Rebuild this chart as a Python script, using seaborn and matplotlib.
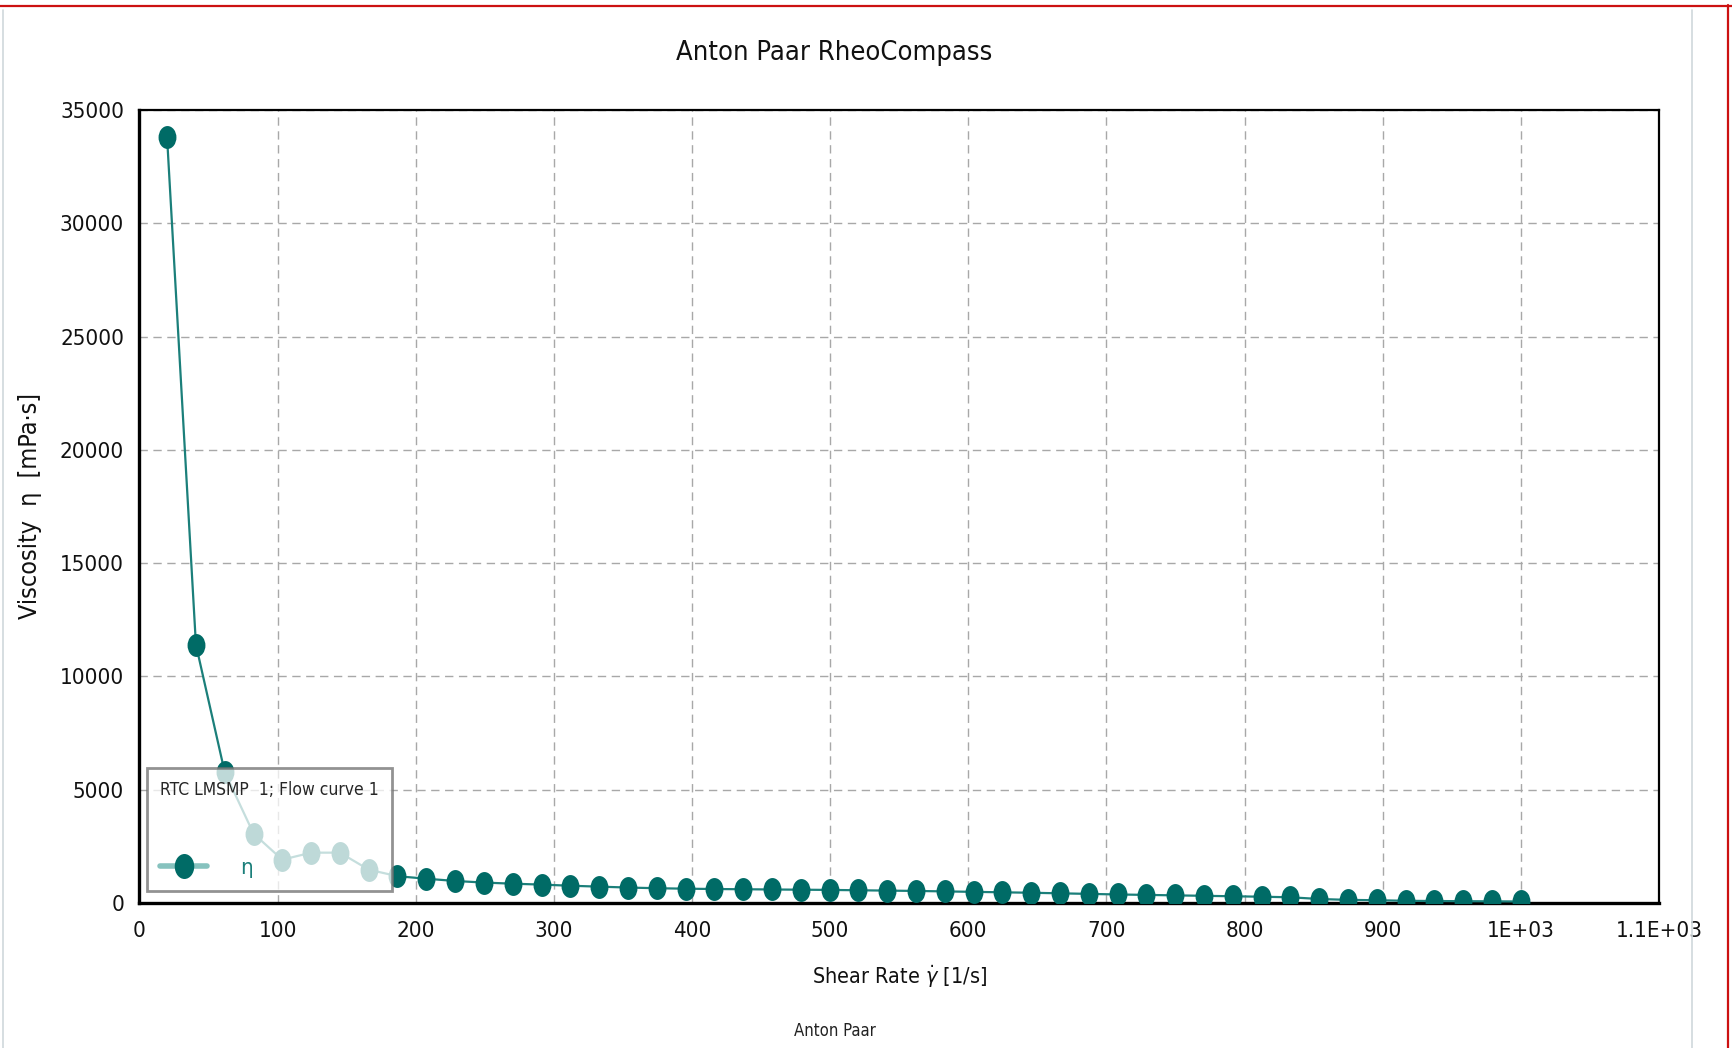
import numpy as np
import pandas as pd
import seaborn as sns
import matplotlib
matplotlib.use("Agg")
import matplotlib.pyplot as plt
from matplotlib.path import Path
from matplotlib.lines import Line2D
from matplotlib.ticker import MultipleLocator

# ---------------- data ----------------
shear_rate = [20.0, 40.9, 61.7, 82.6, 103.4, 124.3, 145.1, 166.0, 186.8, 207.7,
              228.5, 249.4, 270.2, 291.1, 311.9, 332.8, 353.6, 374.5, 395.3, 416.2,
              437.0, 457.9, 478.7, 499.6, 520.4, 541.3, 562.1, 583.0, 603.8, 624.7,
              645.5, 666.4, 687.2, 708.1, 728.9, 749.8, 770.6, 791.5, 812.3, 833.2,
              854.0, 874.9, 895.7, 916.6, 937.4, 958.3, 979.1, 1000.0]
viscosity = [33800, 11400, 5780, 3060, 1910, 2220, 2220, 1470, 1180, 1070,
             970, 900, 850, 810, 760, 720, 680, 650, 630, 615,
             605, 595, 585, 575, 560, 545, 530, 510, 490, 470,
             450, 425, 400, 375, 355, 335, 315, 295, 275, 250,
             175, 135, 120, 95, 85, 78, 72, 65]
x_ticks = [0, 100, 200, 300, 400, 500, 600, 700, 800, 900, 1000, 1100]
x_tick_labels = ["0", "100", "200", "300", "400", "500", "600", "700", "800",
                 "900", "1E+03", "1.1E+03"]
y_ticks = [0, 5000, 10000, 15000, 20000, 25000, 30000, 35000]
y_tick_labels = ["0", "5000", "10000", "15000", "20000", "25000", "30000", "35000"]

title_text = "Anton Paar RheoCompass"
legend_title = "RTC LMSMP  1; Flow curve 1"
series_label = "η"
footer_text = "Anton Paar"

df = pd.DataFrame({"shear_rate": shear_rate, "viscosity": viscosity})

# ---------------- style ----------------
sns.set_theme(style="white")
plt.rcParams["font.family"] = ["DejaVu Sans"]
plt.rcParams["font.stretch"] = "condensed"
plt.rcParams["mathtext.fontset"] = "dejavusans"

DARK = "#006b66"
LINE = "#1b7f7a"
LIGHT = "#86c2be"

fig = plt.figure(figsize=(17.32, 10.48), dpi=100)
fig.patch.set_facecolor("white")
ax = fig.add_axes([0.0805, 0.1384, 0.8774, 0.7567])

# elliptical marker (taller than wide)
circ = Path.unit_circle()
ell = Path(circ.vertices * np.array([0.78, 1.0]), circ.codes)

sns.lineplot(data=df, x="shear_rate", y="viscosity", ax=ax, color=LINE,
             linewidth=1.6, marker=ell, markersize=16.5, markerfacecolor=DARK,
             markeredgewidth=0, zorder=3)

ax.set_xlim(0, 1100)
ax.set_ylim(0, 35000)

ax.set_xticks(x_ticks)
ax.set_xticklabels(x_tick_labels)
ax.set_yticks(y_ticks)
ax.set_yticklabels(y_tick_labels)
ax.xaxis.set_minor_locator(MultipleLocator(10))
ax.yaxis.set_minor_locator(MultipleLocator(1000))

ax.tick_params(axis="both", which="major", direction="inout", length=14,
               width=2.2, color="black", labelsize=16, labelcolor="#111111")
ax.tick_params(axis="both", which="minor", direction="in", length=7,
               width=1.6, color="black")
ax.tick_params(axis="x", which="major", pad=6)
ax.tick_params(axis="y", which="major", pad=4)

for side, lw in (("left", 2.4), ("bottom", 2.4), ("top", 1.6), ("right", 1.6)):
    ax.spines[side].set_visible(True)
    ax.spines[side].set_color("black")
    ax.spines[side].set_linewidth(lw)

ax.grid(True, which="major", color="#a8a8a8", linestyle=(0, (6, 4)), linewidth=1.0)
ax.set_axisbelow(True)

fig.text(0.4815, 0.949, title_text, fontsize=19.5, ha="center", va="center",
         color="#111111")
ax.set_xlabel("Shear Rate $\\dot{\\gamma}$ [1/s]", fontsize=15.5, labelpad=16,
              color="#111111")
ax.set_ylabel("Viscosity  η  [mPa·s]", fontsize=18, color="#111111")
ax.yaxis.set_label_coords(-0.064, 0.5)

# legend
handle = Line2D([0], [0], color=LIGHT, linewidth=4, marker=ell, markersize=18,
                markerfacecolor=DARK, markeredgewidth=0)
leg = ax.legend([handle], [series_label], title=legend_title, loc="lower left",
                bbox_to_anchor=(0.005, 0.015), borderaxespad=0.0,
                frameon=True, fancybox=False,
                shadow=False, framealpha=0.75, facecolor="white",
                edgecolor="#6e6e6e",
                fontsize=16, title_fontsize=12.5, handlelength=2.1,
                handletextpad=1.5, borderpad=0.6, labelspacing=0.4,
                alignment="left", labelcolor=LINE)
leg.get_frame().set_linewidth(2.0)
leg._legend_box.sep = 42

fig.text(0.482, 0.0165, footer_text, fontsize=12, ha="center", va="center",
         color="#222222")

# page decorations (frame of the screenshot)
fig.add_artist(Line2D([0, 1], [0.9945, 0.9945], color="#cc1111", linewidth=1.6,
                      transform=fig.transFigure))
fig.add_artist(Line2D([0.9978, 0.9978], [0, 0.995], color="#cc1111", linewidth=1.6,
                      transform=fig.transFigure))
fig.add_artist(Line2D([0.0015, 0.0015], [0, 0.99], color="#d0d8dc", linewidth=1.2,
                      transform=fig.transFigure))
fig.add_artist(Line2D([0.977, 0.977], [0, 0.99], color="#d0d8dc", linewidth=1.2,
                      transform=fig.transFigure))

fig.savefig("out.png", dpi=100, facecolor="white")
